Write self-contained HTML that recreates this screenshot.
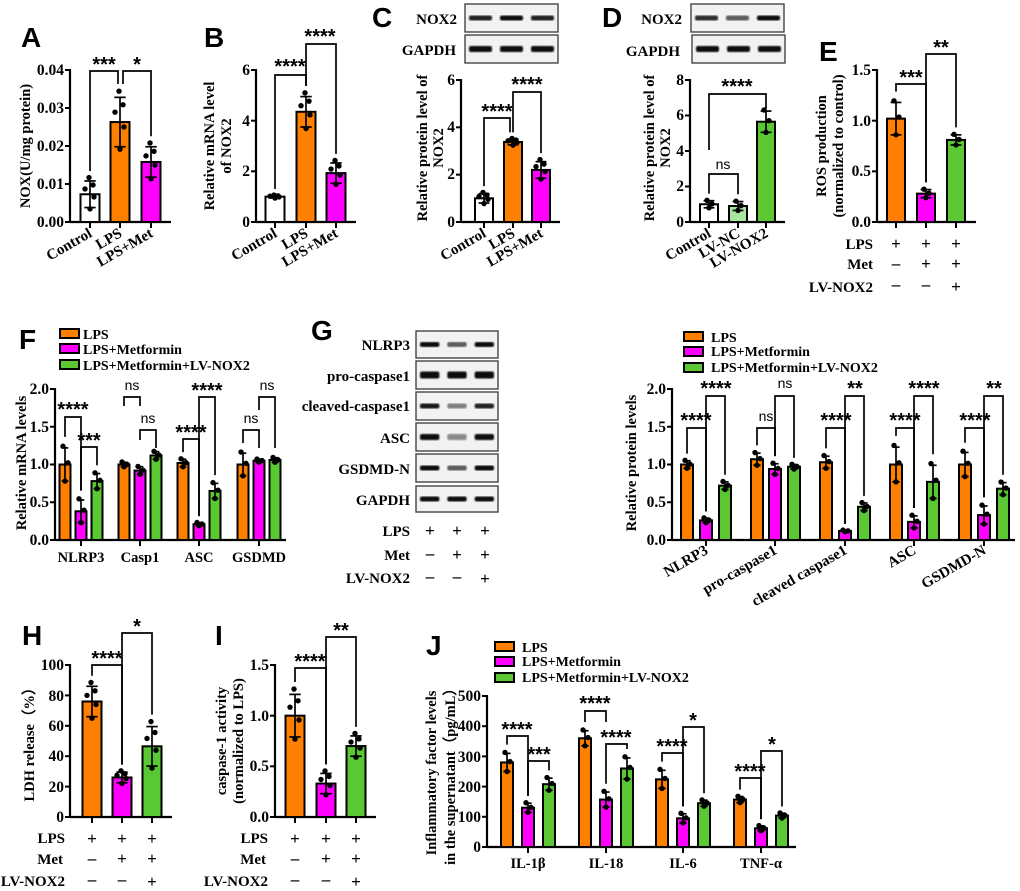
<!DOCTYPE html>
<html><head><meta charset="utf-8"><style>
html,body{margin:0;padding:0;background:#fff}
svg{display:block}
text{font-family:"Liberation Serif",serif;font-weight:bold;fill:#000}
.t{font-size:15.5px;text-anchor:end}
.xl{font-size:15px;text-anchor:end}
.st{font-size:20px;text-anchor:middle;font-family:"Liberation Sans",sans-serif;transform:translateY(1px)}
.ns{font-size:14px;text-anchor:middle;font-family:"Liberation Sans",sans-serif;font-weight:normal}
.L{font-size:28px;font-family:"Liberation Sans",sans-serif}
.yt{font-size:14.5px;text-anchor:middle}
.lg{font-size:14px}
.sg{font-size:17px;text-anchor:middle}
.bl{font-size:15px;text-anchor:end}
</style></head><body>
<svg id="s" width="1020" height="891" viewBox="0 0 1020 891" xmlns="http://www.w3.org/2000/svg">
<defs><filter id="bf"><feGaussianBlur stdDeviation="0.9"/></filter></defs>
<g id="gfx"></g>
<text class="L" x="21" y="47">A</text>
<text class="L" x="204" y="47">B</text>
<text class="L" x="372" y="27">C</text>
<text class="L" x="602" y="27">D</text>
<text class="L" x="819" y="61">E</text>
<text class="L" x="19" y="349">F</text>
<text class="L" x="311" y="340">G</text>
<text class="L" x="22" y="645">H</text>
<text class="L" x="215" y="645">I</text>
<text class="L" x="426" y="655">J</text>

<!-- A -->
<text class="t" x="64" y="227">0.00</text><text class="t" x="64" y="189">0.01</text><text class="t" x="64" y="151">0.02</text><text class="t" x="64" y="113">0.03</text><text class="t" x="64" y="75">0.04</text>
<text class="yt" transform="translate(30,146) rotate(-90)">NOX(U/mg protein)</text>
<text class="st" x="104" y="70">***</text><text class="st" x="137" y="70">*</text>
<text class="xl" transform="translate(93,236) rotate(-30)">Control</text>
<text class="xl" transform="translate(123,236) rotate(-30)">LPS</text>
<text class="xl" transform="translate(154,236) rotate(-30)">LPS+Met</text>
<!-- B -->
<text class="t" x="250" y="227">0</text><text class="t" x="250" y="176">2</text><text class="t" x="250" y="126">4</text><text class="t" x="250" y="75">6</text>
<text class="yt" transform="translate(214,146) rotate(-90)">Relative mRNA level</text>
<text class="yt" transform="translate(231,146) rotate(-90)">of NOX2</text>
<text class="st" x="290" y="72">****</text><text class="st" x="320" y="42">****</text>
<text class="xl" transform="translate(278,236) rotate(-30)">Control</text>
<text class="xl" transform="translate(309,236) rotate(-30)">LPS</text>
<text class="xl" transform="translate(339,236) rotate(-30)">LPS+Met</text>
<!-- C -->
<text class="bl" x="457" y="24">NOX2</text><text class="bl" x="456" y="55">GAPDH</text>
<text class="t" x="455" y="227">0</text><text class="t" x="455" y="179">2</text><text class="t" x="455" y="132">4</text><text class="t" x="455" y="85">6</text>
<text class="yt" transform="translate(427,148) rotate(-90)">Relative protein level of</text>
<text class="yt" transform="translate(443,148) rotate(-90)">NOX2</text>
<text class="st" x="497" y="117">****</text><text class="st" x="527" y="90">****</text>
<text class="xl" transform="translate(487,236) rotate(-30)">Control</text>
<text class="xl" transform="translate(516,236) rotate(-30)">LPS</text>
<text class="xl" transform="translate(544,236) rotate(-30)">LPS+Met</text>
<!-- D -->
<text class="bl" x="682" y="24">NOX2</text><text class="bl" x="680" y="56">GAPDH</text>
<text class="t" x="684" y="227">0</text><text class="t" x="684" y="191">2</text><text class="t" x="684" y="156">4</text><text class="t" x="684" y="120">6</text><text class="t" x="684" y="85">8</text>
<text class="yt" transform="translate(654,148) rotate(-90)">Relative protein level of</text>
<text class="yt" transform="translate(670,148) rotate(-90)">NOX2</text>
<text class="ns" x="723" y="169">ns</text><text class="st" x="737" y="92">****</text>
<text class="xl" transform="translate(712,236) rotate(-30)">Control</text>
<text class="xl" transform="translate(741,236) rotate(-30)">LV-NC</text>
<text class="xl" transform="translate(769,236) rotate(-30)">LV-NOX2</text>
<!-- E -->
<text class="t" x="871" y="227">0.0</text><text class="t" x="871" y="176">0.5</text><text class="t" x="871" y="126">1.0</text><text class="t" x="871" y="75">1.5</text>
<text class="yt" transform="translate(826,146) rotate(-90)">ROS production</text>
<text class="yt" transform="translate(843,146) rotate(-90)">(normalized to control)</text>
<text class="st" x="911" y="83">***</text><text class="st" x="941" y="53">**</text>
<text class="bl" x="873" y="249">LPS</text><text class="bl" x="873" y="269">Met</text><text class="bl" x="873" y="292">LV-NOX2</text>
<text class="sg" x="896" y="249">+</text><text class="sg" x="926" y="249">+</text><text class="sg" x="956" y="249">+</text>
<text class="sg" x="896" y="269">–</text><text class="sg" x="926" y="269">+</text><text class="sg" x="956" y="269">+</text>
<text class="sg" x="896" y="290">–</text><text class="sg" x="926" y="290">–</text><text class="sg" x="956" y="292">+</text>

<!-- F -->
<text class="lg" x="83" y="339">LPS</text><text class="lg" x="83" y="354">LPS+Metformin</text><text class="lg" x="83" y="370">LPS+Metformin+LV-NOX2</text>
<text class="t" x="49" y="545">0.0</text><text class="t" x="49" y="507">0.5</text><text class="t" x="49" y="469">1.0</text><text class="t" x="49" y="432">1.5</text><text class="t" x="49" y="394">2.0</text>
<text class="yt" transform="translate(26,463) rotate(-90)">Relative mRNA levels</text>
<text class="st" x="73" y="415">****</text><text class="st" x="89" y="446">***</text>
<text class="ns" x="132" y="390">ns</text><text class="ns" x="148" y="423">ns</text>
<text class="st" x="191" y="438">****</text><text class="st" x="207" y="396">****</text>
<text class="ns" x="251" y="423">ns</text><text class="ns" x="267" y="390">ns</text>
<text class="yt" x="81" y="562">NLRP3</text><text class="yt" x="140" y="562">Casp1</text><text class="yt" x="199" y="562">ASC</text><text class="yt" x="259" y="562">GSDMD</text>

<!-- G blots labels -->
<text class="bl" x="410" y="350">NLRP3</text>
<text class="bl" x="410" y="381">pro-caspase1</text>
<text class="bl" x="410" y="411">cleaved-caspase1</text>
<text class="bl" x="410" y="443">ASC</text>
<text class="bl" x="410" y="474">GSDMD-N</text>
<text class="bl" x="410" y="505">GAPDH</text>
<text class="bl" x="410" y="536">LPS</text><text class="bl" x="410" y="560">Met</text><text class="bl" x="410" y="583">LV-NOX2</text>
<text class="sg" x="430" y="536">+</text><text class="sg" x="457" y="536">+</text><text class="sg" x="485" y="536">+</text>
<text class="sg" x="430" y="559">–</text><text class="sg" x="457" y="560">+</text><text class="sg" x="485" y="560">+</text>
<text class="sg" x="430" y="582">–</text><text class="sg" x="457" y="582">–</text><text class="sg" x="485" y="584">+</text>

<!-- G chart -->
<text class="lg" x="711" y="342">LPS</text><text class="lg" x="711" y="356">LPS+Metformin</text><text class="lg" x="711" y="372">LPS+Metformin+LV-NOX2</text>
<text class="t" x="666" y="545">0.0</text><text class="t" x="666" y="507">0.5</text><text class="t" x="666" y="469">1.0</text><text class="t" x="666" y="432">1.5</text><text class="t" x="666" y="394">2.0</text>
<text class="yt" transform="translate(636,463) rotate(-90)">Relative protein levels</text>
<text class="st" x="696" y="426">****</text><text class="st" x="716" y="394">****</text>
<text class="ns" x="766" y="421">ns</text><text class="ns" x="785" y="388">ns</text>
<text class="st" x="836" y="426">****</text><text class="st" x="855" y="394">**</text>
<text class="st" x="905" y="426">****</text><text class="st" x="924" y="394">****</text>
<text class="st" x="975" y="426">****</text><text class="st" x="994" y="394">**</text>
<text class="xl" transform="translate(709,553) rotate(-30)">NLRP3</text>
<text class="xl" transform="translate(778,553) rotate(-30)">pro-caspase1</text>
<text class="xl" transform="translate(848,553) rotate(-30)">cleaved caspase1</text>
<text class="xl" transform="translate(917,553) rotate(-30)">ASC</text>
<text class="xl" transform="translate(987,553) rotate(-30)">GSDMD-N</text>

<!-- H -->
<text class="t" x="64" y="822">0</text><text class="t" x="64" y="792">20</text><text class="t" x="64" y="761">40</text><text class="t" x="64" y="731">60</text><text class="t" x="64" y="701">80</text><text class="t" x="64" y="670">100</text>
<text class="yt" transform="translate(34,741) rotate(-90)">LDH release（%）</text>
<text class="st" x="107" y="664">****</text><text class="st" x="137" y="632">*</text>
<text class="bl" x="65" y="843">LPS</text><text class="bl" x="63" y="864">Met</text><text class="bl" x="65" y="886">LV-NOX2</text>
<text class="sg" x="92" y="844">+</text><text class="sg" x="122" y="844">+</text><text class="sg" x="152" y="844">+</text>
<text class="sg" x="92" y="864">–</text><text class="sg" x="122" y="864">+</text><text class="sg" x="152" y="864">+</text>
<text class="sg" x="92" y="885">–</text><text class="sg" x="122" y="885">–</text><text class="sg" x="152" y="887">+</text>
<!-- I -->
<text class="t" x="269" y="822">0.0</text><text class="t" x="269" y="771">0.5</text><text class="t" x="269" y="721">1.0</text><text class="t" x="269" y="670">1.5</text>
<text class="yt" transform="translate(226,741) rotate(-90)">caspase-1 activity</text>
<text class="yt" transform="translate(243,741) rotate(-90)">(normalized to LPS)</text>
<text class="st" x="310" y="667">****</text><text class="st" x="341" y="636">**</text>
<text class="bl" x="268" y="843">LPS</text><text class="bl" x="266" y="864">Met</text><text class="bl" x="268" y="886">LV-NOX2</text>
<text class="sg" x="295" y="844">+</text><text class="sg" x="326" y="844">+</text><text class="sg" x="356" y="844">+</text>
<text class="sg" x="295" y="864">–</text><text class="sg" x="326" y="864">+</text><text class="sg" x="356" y="864">+</text>
<text class="sg" x="295" y="885">–</text><text class="sg" x="326" y="885">–</text><text class="sg" x="356" y="887">+</text>
<!-- J -->
<text class="lg" x="522" y="652">LPS</text><text class="lg" x="522" y="666">LPS+Metformin</text><text class="lg" x="522" y="682">LPS+Metformin+LV-NOX2</text>
<text class="t" x="481" y="852">0</text><text class="t" x="481" y="822">100</text><text class="t" x="481" y="792">200</text><text class="t" x="481" y="762">300</text><text class="t" x="481" y="731">400</text><text class="t" x="481" y="701">500</text>
<text class="yt" transform="translate(436,773) rotate(-90)">Inflammatory factor levels</text>
<text class="yt" transform="translate(455,773) rotate(-90)">in the supernatant（pg/mL）</text>
<text class="st" x="517" y="735">****</text><text class="st" x="539" y="760">***</text>
<text class="st" x="595" y="709">****</text><text class="st" x="616" y="743">****</text>
<text class="st" x="672" y="752">****</text><text class="st" x="693" y="726">*</text>
<text class="st" x="750" y="777">****</text><text class="st" x="772" y="750">*</text>
<text class="yt" x="528" y="868">IL-1β</text><text class="yt" x="606" y="868">IL-18</text><text class="yt" x="683" y="868">IL-6</text><text class="yt" x="761" y="868">TNF-α</text>
</svg>
<script>
var O='#ff8000',M='#ff00ff',G='#5ac832',W='#ffffff',LG='#a8e6a0';
var out=[];
function L(x1,y1,x2,y2,w){out.push('<line x1="'+x1+'" y1="'+y1+'" x2="'+x2+'" y2="'+y2+'" stroke="#000" stroke-width="'+(w||1.8)+'"/>');}
function chart(o){
  var Y=function(v){return o.base-v/o.max*(o.base-o.top);};
  o.ticks.forEach(function(t){L(o.ax-5,Y(t),o.ax,Y(t),2);});
  L(o.ax,o.top-1,o.ax,o.base+1,2.2);L(o.ax,o.base,o.end,o.base,2.2);
  var xt=o.xt||o.bars.map(function(b){return b[0];});
  xt.forEach(function(x){L(x,o.base,x,o.base+6,2);});
  o.bars.forEach(function(b){
    var x=b[0],v=b[1],c=b[2],e=b[3],n=b[4],w=o.bw;
    out.push('<rect x="'+(x-w/2)+'" y="'+Y(v)+'" width="'+w+'" height="'+(o.base-Y(v))+'" fill="'+c+'" stroke="#000" stroke-width="2"/>');
    L(x,Y(v-e),x,Y(v+e),1.7);L(x-w*0.3,Y(v+e),x+w*0.3,Y(v+e),1.7);L(x-w*0.3,Y(v-e),x+w*0.3,Y(v-e),1.7);
    var ks=n==5?[1.25,0.4,-0.2,0.7,-1.1]:[1.1,0.1,-1.0],dx=n==5?[-1,-5,4,3,0]:[-2,3,0];
    for(var i=0;i<n;i++){out.push('<circle cx="'+(x+dx[i])+'" cy="'+Y(v+ks[i]*e)+'" r="2.7" fill="#000"/>');}
  });
  (o.br||[]).forEach(function(r){
    var b1=o.bars.filter(function(b){return Math.abs(b[0]-r[0])<4;})[0];
    var b2=o.bars.filter(function(b){return Math.abs(b[0]-r[1])<4;})[0];
    var l1=r[3]||(b1?Y(b1[1]+b1[3]*1.3)-6:r[2]+10),l2=r[4]||(b2?Y(b2[1]+b2[3]*1.3)-6:r[2]+10);
    if(l1<r[2]+5)l1=r[2]+5;if(l2<r[2]+5)l2=r[2]+5;
    out.push('<polyline points="'+r[0]+','+l1+' '+r[0]+','+r[2]+' '+r[1]+','+r[2]+' '+r[1]+','+l2+'" fill="none" stroke="#000" stroke-width="1.7"/>');
  });
}
chart({ax:70,base:222,top:70,max:.04,end:171,bw:19,ticks:[0,.01,.02,.03,.04],
 bars:[[90,.0073,W,.0035,5],[120,.0263,O,.0065,5],[151,.0158,M,.004,5]],br:[[90,118,71],[123,151,71]]});
chart({ax:256,base:222,top:70,max:6,end:356,bw:19,ticks:[0,2,4,6],
 bars:[[275,1,W,.05,5],[306,4.35,O,.6,5],[336,1.93,M,.4,5]],br:[[275,306,75],[306,336,44]]});
chart({ax:461,base:222,top:80,max:6,end:560,bw:18,ticks:[0,2,4,6],
 bars:[[484,1,W,.2,5],[513,3.38,O,.12,5],[541,2.2,M,.35,5]],br:[[484,510,118],[513,541,92]]});
chart({ax:690,base:222,top:80,max:8,end:785,bw:18,ticks:[0,2,4,6,8],
 bars:[[709,1,W,.2,3],[738,.9,LG,.25,3],[766,5.65,G,.6,3]],br:[[709,738,174],[709,766,94,150,109]]});
chart({ax:877,base:222,top:70,max:1.5,end:976,bw:18,ticks:[0,.5,1,1.5],
 bars:[[896,1.02,O,.16,3],[926,.28,M,.04,3],[956,.81,G,.05,3]],br:[[896,926,84],[926,956,54]]});
chart({ax:55,base:540,top:389,max:2,end:286,bw:11,ticks:[0,.5,1,1.5,2],xt:[81,140,199,259],
 bars:[[65,1,O,.22,3],[81,.38,M,.15,3],[97,.78,G,.1,3],[124,1,O,.03,3],[140,.92,M,.05,3],[156,1.12,G,.05,3],
 [183,1.02,O,.05,3],[199,.21,M,.02,3],[215,.65,G,.1,3],[243,1,O,.15,3],[259,1.05,M,.02,3],[275,1.06,G,.03,3]],
 br:[[65,81,417],[81,97,447],[124,140,397,406,406],[140,156,430,440,448],[183,199,439],[199,215,397],[243,259,430,443,448],[259,275,397,410,448]]});
chart({ax:672,base:540,top:389,max:2,end:1015,bw:12,ticks:[0,.5,1,1.5,2],xt:[706,775,845,914,984],
 bars:[[687,1,O,.05,3],[706,.26,M,.03,3],[725,.72,G,.05,3],[757,1.07,O,.08,3],[775,.94,M,.07,3],[794,.97,G,.03,3],
 [826,1.03,O,.08,3],[845,.12,M,.01,3],[864,.44,G,.05,3],[896,1,O,.23,3],[914,.24,M,.08,3],[933,.77,G,.22,3],
 [965,1,O,.16,3],[984,.33,M,.12,3],[1003,.68,G,.08,3]],
 br:[[687,706,428],[706,725,396],[757,775,428],[775,794,396],[826,845,428],[845,864,396],[896,914,428],[914,933,396],[965,984,428],[984,1003,396]]});
chart({ax:70,base:817,top:665,max:100,end:172,bw:19,ticks:[0,20,40,60,80,100],
 bars:[[92,76,O,10,5],[122,26,M,3.5,5],[152,46.5,G,13,5]],br:[[92,122,665],[122,152,633]]});
chart({ax:275,base:817,top:665,max:1.5,end:376,bw:19,ticks:[0,.5,1,1.5],
 bars:[[295,1,O,.21,5],[326,.33,M,.1,5],[356,.7,G,.1,5]],br:[[295,326,668],[326,356,637]]});
chart({ax:487,base:847,top:696,max:500,end:796,bw:12,ticks:[0,100,200,300,400,500],xt:[528,606,683,761],
 bars:[[507,280,O,30,3],[528,130,M,15,3],[549,208,G,20,3],[585,360,O,25,3],[606,157,M,25,3],[627,260,G,35,3],
 [662,224,O,30,3],[683,95,M,15,3],[704,145,G,10,3],[740,157,O,10,3],[761,62,M,8,3],[782,104,G,8,3]],
 br:[[507,528,736],[528,549,761],[585,606,711,722,722],[606,627,744],[662,683,753],[683,704,727],[740,761,778],[761,782,751]]});
[[60,334],[684,337],[495,647]].forEach(function(p){[O,M,G].forEach(function(c,i){
 out.push('<rect x="'+p[0]+'" y="'+(p[1]+[0,15,31][i]-5)+'" width="19" height="9" fill="'+c+'" stroke="#000" stroke-width="2"/>');});});
function blot(x,y,w,h,ints,th){
 out.push('<rect x="'+x+'" y="'+y+'" width="'+w+'" height="'+h+'" fill="#f2f2f2" stroke="#444" stroke-width="1.4"/>');
 var lw=w/3;ints.forEach(function(a,i){
  out.push('<rect x="'+(x+lw*i+4)+'" y="'+(y+h/2-th/2)+'" width="'+(lw-8)+'" height="'+th+'" rx="2" fill="#0a0a0a" opacity="'+a+'" filter="url(#bf)"/>');});
}
blot(465,4,93,28,[.9,1,.9],5);blot(465,35,93,28,[1,1,1],6);
blot(691,4,93,28,[.85,.65,1],5);blot(692,35,93,28,[1,1,1],6);
blot(416,331,82,27,[1,.65,1],5);blot(416,361,82,28,[1,1,1],7);blot(416,392,82,28,[.95,.5,.9],5);
blot(416,423,82,28,[1,.45,1],6);blot(416,454,82,28,[1,.65,1],5);blot(416,486,82,26,[1,1,1],5);
document.getElementById('gfx').innerHTML=out.join('');
</script>
</body></html>
